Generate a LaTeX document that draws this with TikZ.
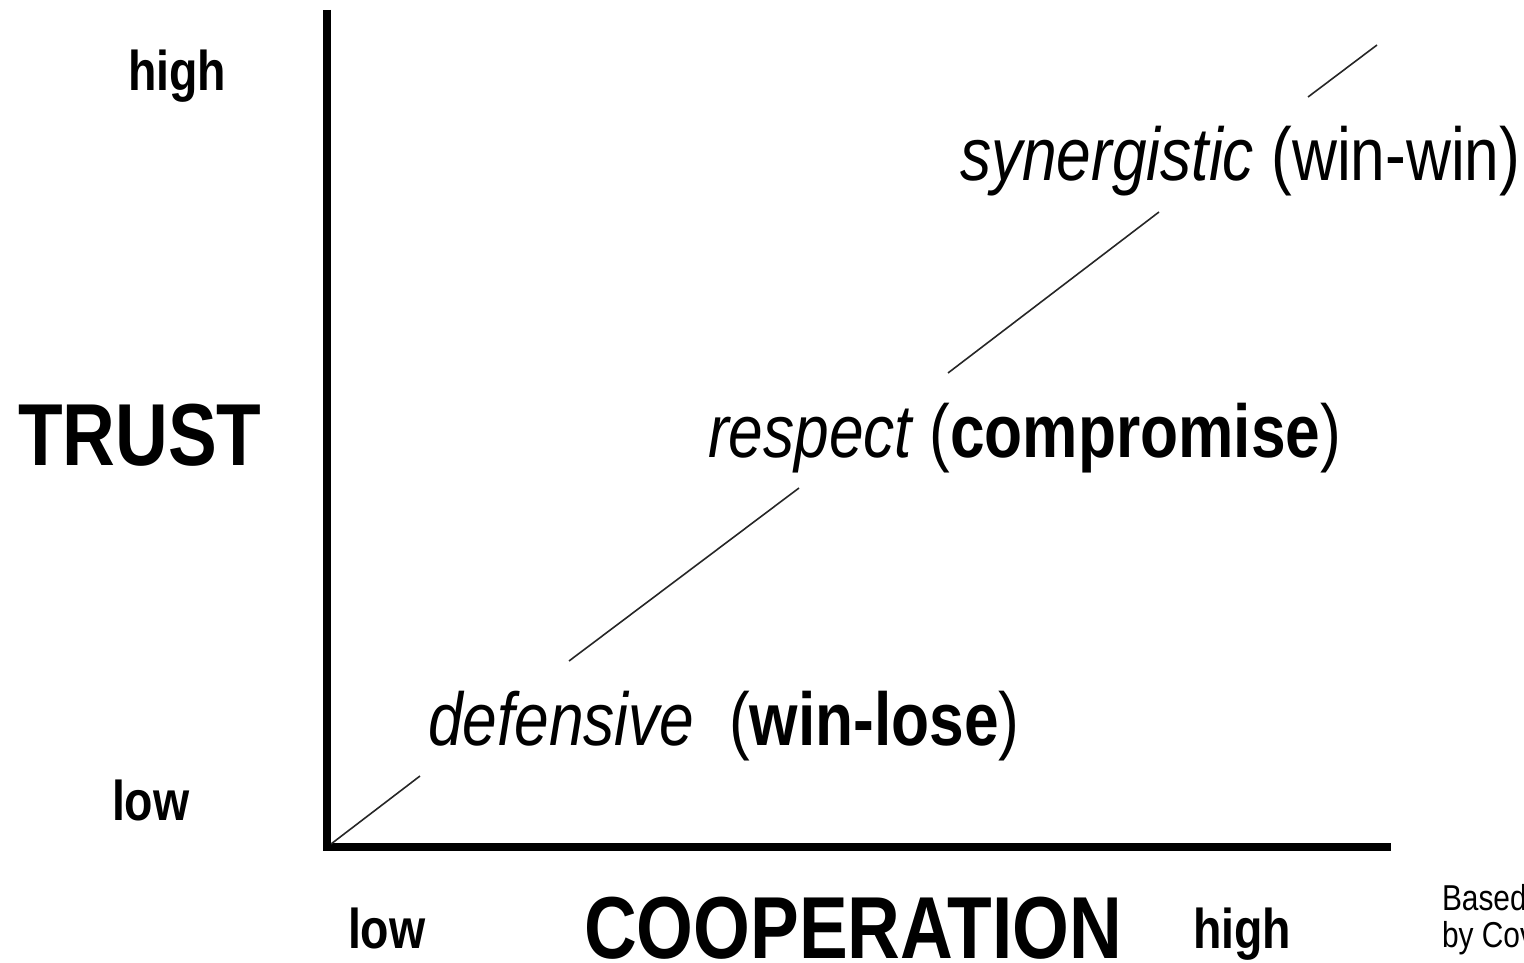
\documentclass[tikz,border=0pt]{standalone}
\usepackage{fontspec}
\setmainfont{Liberation Sans}[FakeStretch=0.83]
\begin{document}
\begin{tikzpicture}[x=1pt,y=-1pt,
  lbl/.style={anchor=base west,inner sep=0pt,outer sep=0pt},
  axisline/.style={line width=8pt,line cap=butt},
  diag/.style={line width=1.6pt,black!85}]
\useasboundingbox (0,0) rectangle (1524,963);
\clip (0,0) rectangle (1524,963);
% axes
\coordinate (top) at (327,10);
\coordinate (origin) at (327,847);
\coordinate (xend) at (1391,847);
\draw[axisline] (top) -- ([yshift=4pt]origin);
\draw[axisline] ([xshift=-4pt]origin) -- (xend);
% diagonal segments
\coordinate (d0) at (331,844);
\coordinate (d1) at (420,776);
\coordinate (d2) at (569,661);
\coordinate (d3) at (799,488);
\coordinate (d4) at (948,373);
\coordinate (d5) at (1159,212);
\coordinate (d6) at (1308,97);
\coordinate (d7) at (1377,45);
\draw[diag] (d0) -- (d1);
\draw[diag] (d2) -- (d3);
\draw[diag] (d4) -- (d5);
\draw[diag] (d6) -- (d7);
% axis labels
\node[lbl,font=\fontsize{56}{60}\selectfont\bfseries] (yhigh) at (128,91) {high};
\node[lbl,font=\fontsize{88}{90}\selectfont\bfseries] (trust) at (18,465) {TRUST};
\node[lbl,font=\fontsize{56}{60}\selectfont\bfseries] (ylow) at (112,820) {low};
\node[lbl,font=\fontsize{56}{60}\selectfont\bfseries] (xlow) at (348,948) {low};
\node[lbl,font=\fontsize{88}{90}\selectfont\bfseries] (coop) at (584,958) {COOPERATION};
\node[lbl,font=\fontsize{56}{60}\selectfont\bfseries] (xhigh) at (1193,948) {high};
\node[lbl,font=\fontsize{36}{40}\selectfont] (based) at (1442,910) {Based};
\node[lbl,font=\fontsize{36}{40}\selectfont] (bycov) at (1442,947) {by Cov};
% diagonal labels
\node[lbl,font=\fontsize{75}{80}\selectfont] (syn) at (960,181) {\itshape synergistic\upshape{} (win-win)};
\node[lbl,font=\fontsize{75}{80}\selectfont] (resp) at (708,457) {\itshape respect\upshape{} (\textbf{compromise})};
\node[lbl,font=\fontsize{75}{80}\selectfont] (def) at (428,745) {\itshape defensive\upshape\ \ (\textbf{win-lose})};
\end{tikzpicture}
\end{document}
